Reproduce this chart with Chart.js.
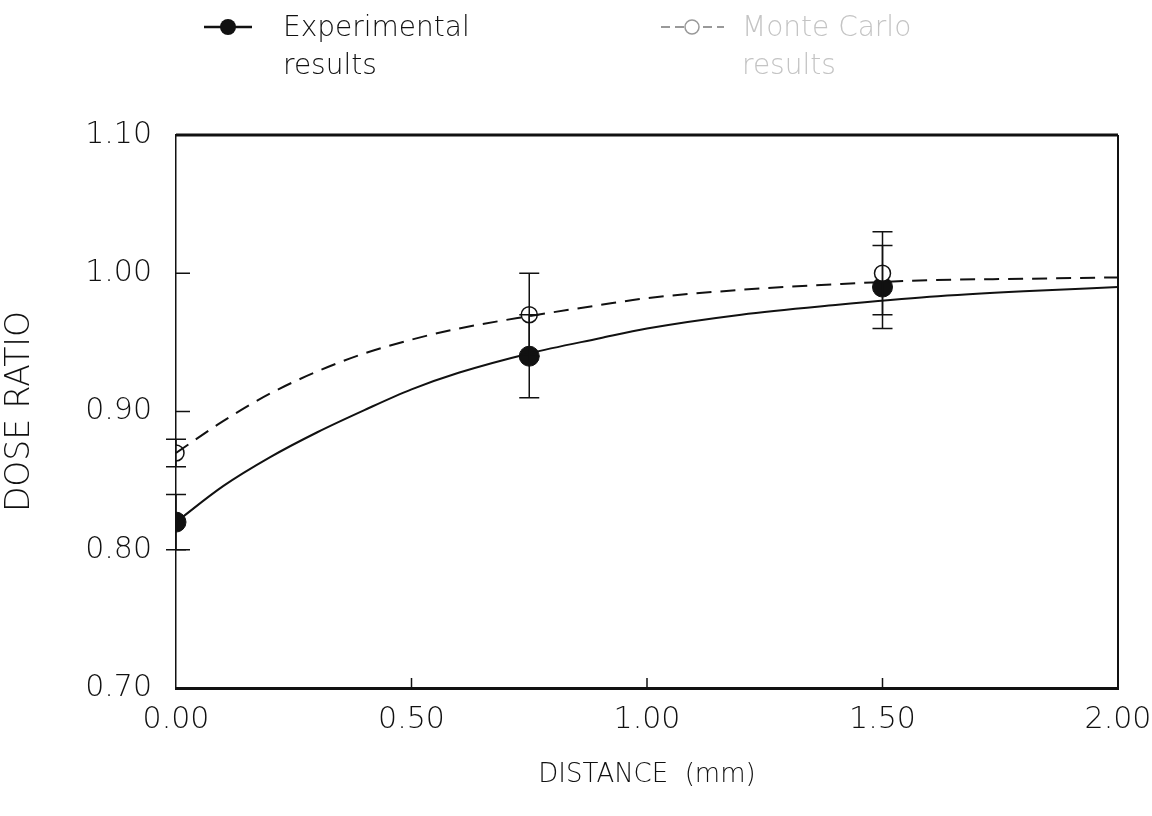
<!DOCTYPE html>
<html>
<head>
<meta charset="utf-8">
<title>Dose ratio vs distance</title>
<script src="https://cdn.jsdelivr.net/npm/chart.js@4.4.1/dist/chart.umd.min.js"></script>
<style>
    body { margin: 0; background: #fff; }
    #wrap { position: relative; width: 1152px; height: 816px; }
    #chart { position: absolute; left: 0; top: 0; }
    .leg { position: absolute; font-family: 'DejaVu Sans', sans-serif; font-weight: 200; font-size: 28px; line-height: 38px; color: #111; }
    .leg.faded { color: #c4c4c4; }
</style>
</head>
<body>
<div id="wrap">
    <canvas id="chart" width="1152" height="816"></canvas>
    <svg style="position:absolute;left:200px;top:14px" width="60" height="28">
        <line x1="4" y1="13" x2="52" y2="13" stroke="#111" stroke-width="2.5"/>
        <circle cx="28" cy="13" r="8" fill="#111"/>
    </svg>
    <div class="leg" style="left:283px;top:8px">Experimental<br>results</div>
    <svg style="position:absolute;left:658px;top:14px" width="70" height="28">
        <line x1="3" y1="13" x2="66" y2="13" stroke="#999" stroke-width="2" stroke-dasharray="9 5"/>
        <circle cx="34" cy="13" r="7" fill="#fff" stroke="#999" stroke-width="1.5"/>
    </svg>
    <div class="leg faded" style="left:742px;top:8px">Monte Carlo<br>results</div>
</div>
<script>
// measured points
const distances = [0, 0.75, 1.5];
const experimental = [0.82, 0.94, 0.99];
const experimentalErr = [0.02, 0.03, 0.03];
const monteCarlo = [0.87, 0.97, 1.00];
const monteCarloErr = [0.01, 0.03, 0.03];

// fitted curves
const fitX = [0, 0.1, 0.2, 0.3, 0.4, 0.5, 0.6, 0.75, 0.9, 1.0, 1.2, 1.4, 1.6, 1.8, 2.0];
const expFit = [0.820, 0.846, 0.867, 0.885, 0.901, 0.916, 0.928, 0.942, 0.953, 0.960, 0.970, 0.977, 0.983, 0.987, 0.990];
const mcFit = [0.870, 0.893, 0.913, 0.929, 0.942, 0.952, 0.960, 0.969, 0.977, 0.982, 0.988, 0.992, 0.995, 0.996, 0.997];

const xTicks = [0, 0.5, 1.0, 1.5, 2.0];
const yTicks = [0.7, 0.8, 0.9, 1.0, 1.1];

const FONT = "'DejaVu Sans', sans-serif";
const INK = '#111';

const pts = (xs, ys) => xs.map((x, i) => ({ x: x, y: ys[i] }));

// top / right frame lines
const framePlugin = {
    id: 'frame',
    beforeDatasetsDraw(chart) {
        const { ctx, chartArea: a } = chart;
        ctx.save();
        ctx.strokeStyle = INK;
        ctx.lineWidth = 3;
        ctx.beginPath();
        ctx.moveTo(a.left, a.top);
        ctx.lineTo(a.right, a.top);
        ctx.stroke();
        ctx.lineWidth = 2;
        ctx.beginPath();
        ctx.moveTo(a.right, a.top);
        ctx.lineTo(a.right, a.bottom);
        ctx.stroke();
        ctx.restore();
    }
};

// tick marks pointing into the plot
const innerTicks = {
    id: 'innerTicks',
    afterDraw(chart) {
        const { ctx, chartArea: a, scales } = chart;
        ctx.save();
        ctx.strokeStyle = INK;
        ctx.lineWidth = 1.5;
        xTicks.slice(1, -1).forEach(v => {
            const px = scales.x.getPixelForValue(v);
            ctx.beginPath();
            ctx.moveTo(px, a.bottom);
            ctx.lineTo(px, a.bottom - 10);
            ctx.stroke();
        });
        yTicks.slice(1, -1).forEach(v => {
            const py = scales.y.getPixelForValue(v);
            ctx.beginPath();
            ctx.moveTo(a.left, py);
            ctx.lineTo(a.left + 14, py);
            ctx.stroke();
        });
        ctx.restore();
    }
};

const errorBars = {
    id: 'errorBars',
    afterDatasetsDraw(chart) {
        const { ctx, scales } = chart;
        ctx.save();
        ctx.strokeStyle = INK;
        ctx.lineWidth = 1.5;
        chart.data.datasets.forEach(ds => {
            if (!ds.errors) return;
            ds.data.forEach((p, i) => {
                const px = scales.x.getPixelForValue(p.x);
                const lo = scales.y.getPixelForValue(p.y - ds.errors[i]);
                const hi = scales.y.getPixelForValue(p.y + ds.errors[i]);
                ctx.beginPath();
                ctx.moveTo(px, lo);
                ctx.lineTo(px, hi);
                ctx.moveTo(px - 10, lo);
                ctx.lineTo(px + 10, lo);
                ctx.moveTo(px - 10, hi);
                ctx.lineTo(px + 10, hi);
                ctx.stroke();
            });
        });
        ctx.restore();
    }
};

new Chart(document.getElementById('chart'), {
    type: 'scatter',
    data: {
        datasets: [
            {
                label: 'Experimental fit',
                data: pts(fitX, expFit),
                showLine: true,
                borderColor: INK,
                borderWidth: 2,
                pointRadius: 0,
                cubicInterpolationMode: 'monotone'
            },
            {
                label: 'Monte Carlo fit',
                data: pts(fitX, mcFit),
                showLine: true,
                borderColor: INK,
                borderWidth: 2,
                borderDash: [15, 9],
                pointRadius: 0,
                cubicInterpolationMode: 'monotone'
            },
            {
                label: 'Monte Carlo results',
                data: pts(distances, monteCarlo),
                errors: monteCarloErr,
                pointRadius: 8,
                pointBackgroundColor: '#fff',
                pointBorderColor: INK,
                pointBorderWidth: 1.5
            },
            {
                label: 'Experimental results',
                data: pts(distances, experimental),
                errors: experimentalErr,
                pointRadius: 10,
                pointBackgroundColor: INK,
                pointBorderColor: INK
            }
        ]
    },
    options: {
        responsive: false,
        animation: false,
        layout: { padding: { top: 135, right: 34, bottom: 0, left: 0 } },
        plugins: {
            legend: { display: false },
            tooltip: { enabled: false }
        },
        scales: {
            x: {
                type: 'linear',
                min: 0,
                max: 2,
                afterFit: s => { s.height = 128; s.paddingRight = 0; s.paddingLeft = 0; },
                afterBuildTicks: s => { s.ticks = xTicks.map(v => ({ value: v })); },
                grid: { display: false },
                border: { color: INK, width: 3 },
                ticks: {
                    color: INK,
                    padding: 6,
                    font: { family: FONT, size: 30, weight: 200 },
                    callback: v => v.toFixed(2)
                },
                title: {
                    display: true,
                    text: 'DISTANCE  (mm)',
                    color: INK,
                    font: { family: FONT, size: 26, weight: 200 },
                    padding: { top: 0, bottom: 25 }
                }
            },
            y: {
                min: 0.7,
                max: 1.1,
                afterFit: s => { s.width = 176; },
                afterBuildTicks: s => { s.ticks = yTicks.map(v => ({ value: v })); },
                grid: { display: false },
                border: { color: INK, width: 1.5 },
                ticks: {
                    color: INK,
                    padding: 16,
                    font: { family: FONT, size: 30, weight: 200 },
                    callback: v => v.toFixed(2)
                },
                title: {
                    display: true,
                    text: 'DOSE RATIO',
                    color: INK,
                    font: { family: FONT, size: 33, weight: 200 },
                    padding: { top: 1, bottom: 0 }
                }
            }
        }
    },
    plugins: [framePlugin, innerTicks, errorBars]
});
</script>
</body>
</html>
